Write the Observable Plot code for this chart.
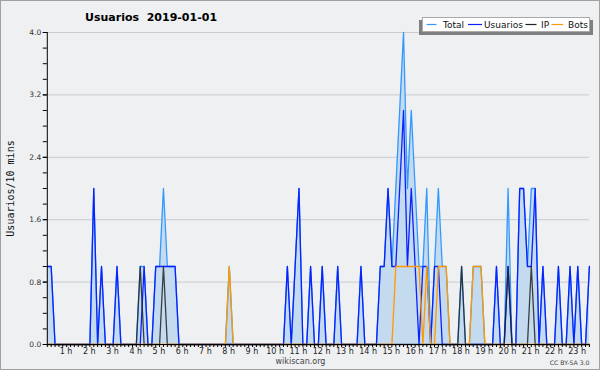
<!DOCTYPE html>
<html><head><meta charset="utf-8">
<script src="https://cdn.jsdelivr.net/npm/d3@7"></script>
<script src="https://cdn.jsdelivr.net/npm/@observablehq/plot@0.6"></script>
<style>
html,body{margin:0;padding:0;background:#eff0f2;}
#chart svg text{white-space:pre;}
</style></head><body><div id="chart"></div>
<script>
// 10-minute bins from 00:00 (index 0) to 23:20 (index 140), grouped by hour
const total = [
  1,1,0,0,0,0,  0,0,0,0,0,0,  2,0,1,0,0,0,  1,0,0,0,0,0,
  1,1,0,0,1,1,  2,1,1,1,0,0,  0,0,0,0,0,0,  0,0,0,0,0,1,
  0,0,0,0,0,0,  0,0,0,0,0,0,  0,0,1,0,1,2,  0,0,1,0,0,1,
  0,0,0,1,0,0,  0,0,0,1,0,0,  0,0,1,1,2,1,  2,3,4,2,3,2,
  1,1,2,0,1,2,  1,1,0,0,0,1,  0,0,1,1,1,0,  0,0,1,0,0,2,
  0,0,2,2,1,2,  2,0,1,0,0,0,  1,0,0,1,0,1,  0,0,1
];
const usuarios = [
  1,1,0,0,0,0,  0,0,0,0,0,0,  2,0,1,0,0,0,  1,0,0,0,0,0,
  0,1,0,0,1,1,  1,1,1,1,0,0,  0,0,0,0,0,0,  0,0,0,0,0,0,
  0,0,0,0,0,0,  0,0,0,0,0,0,  0,0,1,0,1,2,  0,0,1,0,0,1,
  0,0,0,1,0,0,  0,0,0,1,0,0,  0,0,1,1,2,1,  1,2,3,1,2,1,
  0,1,1,0,1,1,  0,0,0,0,0,0,  0,0,0,0,0,0,  0,0,1,0,0,1,
  0,0,2,2,1,1,  2,0,1,0,0,0,  1,0,0,1,0,1,  0,0,1
];
const ip = [
  0,0,0,0,0,0,  0,0,0,0,0,0,  0,0,0,0,0,0,  0,0,0,0,0,0,
  1,0,0,0,0,0,  1,0,0,0,0,0,  0,0,0,0,0,0,  0,0,0,0,0,0,
  0,0,0,0,0,0,  0,0,0,0,0,0,  0,0,0,0,0,0,  0,0,0,0,0,0,
  0,0,0,0,0,0,  0,0,0,0,0,0,  0,0,0,0,0,0,  0,0,0,0,0,0,
  0,0,0,0,0,0,  0,0,0,0,0,1,  0,0,0,0,0,0,  0,0,0,0,0,1,
  0,0,0,0,0,1,  0,0,0,0,0,0,  0,0,0,0,0,0,  0,0,0
];
const bots = [
  0,0,0,0,0,0,  0,0,0,0,0,0,  0,0,0,0,0,0,  0,0,0,0,0,0,
  0,0,0,0,0,0,  0,0,0,0,0,0,  0,0,0,0,0,0,  0,0,0,0,0,1,
  0,0,0,0,0,0,  0,0,0,0,0,0,  0,0,0,0,0,0,  0,0,0,0,0,0,
  0,0,0,0,0,0,  0,0,0,0,0,0,  0,0,0,0,0,0,  1,1,1,1,1,1,
  1,0,1,0,0,1,  1,1,0,0,0,0,  0,0,1,1,1,0,  0,0,0,0,0,0,
  0,0,0,0,0,0,  0,0,0,0,0,0,  0,0,0,0,0,0,  0,0,0
];
const hourLabels = ["1 h","2 h","3 h","4 h","5 h","6 h","7 h","8 h","9 h","10 h","11 h","12 h",
  "13 h","14 h","15 h","16 h","17 h","18 h","19 h","20 h","21 h","22 h","23 h"];
const hourTicks = [6,12,18,24,30,36,42,48,54,60,66,72,78,84,90,96,102,108,114,120,126,132,138];
const yTicks = [0, 0.8, 1.6, 2.4, 3.2, 4.0];
const yTickLabels = ["0.0","0.8","1.6","2.4","3.2","4.0"];
const yMinorTicks = [0,0.2,0.4,0.6,0.8,1,1.2,1.4,1.6,1.8,2,2.2,2.4,2.6,2.8,3,3.2,3.4,3.6,3.8,4];
const gridValues = [0.8, 1.6, 2.4, 3.2, 4.0];
const seriesNames = ["Total","Usuarios","IP","Bots"];
const seriesColors = ["#3399ff","#0a22ff","#222222","#ff9900"];
const titleText = "Usuarios  2019-01-01";
const yLabelText = "Usuarios/10 mins";

const data = total.map((t, i) => ({i, total: t, usuarios: usuarios[i], ip: ip[i], bots: bots[i]}));
const xMinorTicks = data.map(d => d.i);

const plot = Plot.plot({
  width: 600, height: 370,
  marginLeft: 46.8, marginRight: 11.1, marginTop: 32, marginBottom: 26,
  style: {background: "#eff0f2", fontFamily: "DejaVu Sans", overflow: "visible"},
  x: {domain: [0, 140], axis: null},
  y: {domain: [0, 4], axis: null},
  marks: [
    Plot.ruleY(gridValues, {stroke: "#c9cbcd", strokeWidth: 1}),
    Plot.areaY(data, {x: "i", y: "total", fill: "#c4dbef"}),
    Plot.lineY(data, {x: "i", y: "total", stroke: seriesColors[0], strokeWidth: 1.3}),
    Plot.lineY(data, {x: "i", y: "usuarios", stroke: seriesColors[1], strokeWidth: 1.3}),
    Plot.lineY(data, {x: "i", y: "ip", stroke: seriesColors[2], strokeWidth: 1.3, strokeOpacity: 0.85}),
    Plot.lineY(data, {x: "i", y: "bots", stroke: seriesColors[3], strokeWidth: 1.3}),
    Plot.axisY(yMinorTicks, {tickSize: 4, tickFormat: () => "", label: null, stroke: "#000"}),
    Plot.axisY(yTicks, {tickSize: 4, tickPadding: 2, tickFormat: d => yTickLabels[yTicks.indexOf(d)], label: null, fontSize: 7.5, fill: "#333", stroke: "#000"}),
    Plot.axisX(xMinorTicks, {tickSize: 3, tickFormat: () => "", label: null, stroke: "#000"}),
    Plot.text(hourLabels, {x: (d, i) => hourTicks[i], frameAnchor: "bottom", dy: 7, dx: -4.5, fontSize: 8, fill: "#222", lineAnchor: "middle"}),
    Plot.text([yLabelText], {frameAnchor: "left", dx: -37, rotate: -90, fontFamily: "DejaVu Sans Mono", fontSize: 10, fill: "#111", textAnchor: "middle", lineAnchor: "middle"}),
    Plot.ruleX([0], {stroke: "#000"}),
    Plot.ruleY([0], {stroke: "#000"})
  ]
});

document.getElementById("chart").appendChild(plot);
const svg = d3.select(plot);

// title
svg.append("text").attr("x", 85).attr("y", 21).attr("text-anchor", "start").attr("font-family", "DejaVu Sans")
  .attr("font-weight", "bold").attr("font-size", 11).attr("fill", "#000").text(titleText);

// legend
const lg = svg.append("g");
lg.append("rect").attr("x", 419).attr("y", 20).attr("width", 174).attr("height", 15).attr("fill", "#7f7f7f");
lg.append("rect").attr("x", 422.5).attr("y", 17.5).attr("width", 167).attr("height", 14).attr("fill", "#fff").attr("stroke", "#aaa");
const legendLineX = [426.5, 468, 525.5, 551.5];
const legendLineW = [10, 14, 11, 11.5];
const legendTextX = [443, 484, 541, 568];
seriesNames.forEach((name, k) => {
  lg.append("line").attr("x1", legendLineX[k]).attr("x2", legendLineX[k] + legendLineW[k])
    .attr("y1", 24.5).attr("y2", 24.5).attr("stroke", seriesColors[k]).attr("stroke-width", 1.2);
  lg.append("text").attr("x", legendTextX[k]).attr("y", 28).attr("text-anchor", "start").attr("font-family", "DejaVu Sans")
    .attr("font-size", 9).attr("fill", "#111").text(name);
});

// footer
svg.append("text").attr("x", 300.5).attr("y", 364).attr("text-anchor", "middle").attr("font-family", "DejaVu Sans")
  .attr("font-size", 8).attr("fill", "#444").text("wikiscan.org");
svg.append("text").attr("x", 589.5).attr("y", 365).attr("text-anchor", "end").attr("font-family", "DejaVu Sans")
  .attr("font-size", 6.2).attr("fill", "#444").text("CC BY-SA 3.0");

// outer border
svg.append("rect").attr("x", 0.5).attr("y", 0.5).attr("width", 599).attr("height", 369)
  .attr("fill", "none").attr("stroke", "#a0a0a0");
</script>
</body></html>
